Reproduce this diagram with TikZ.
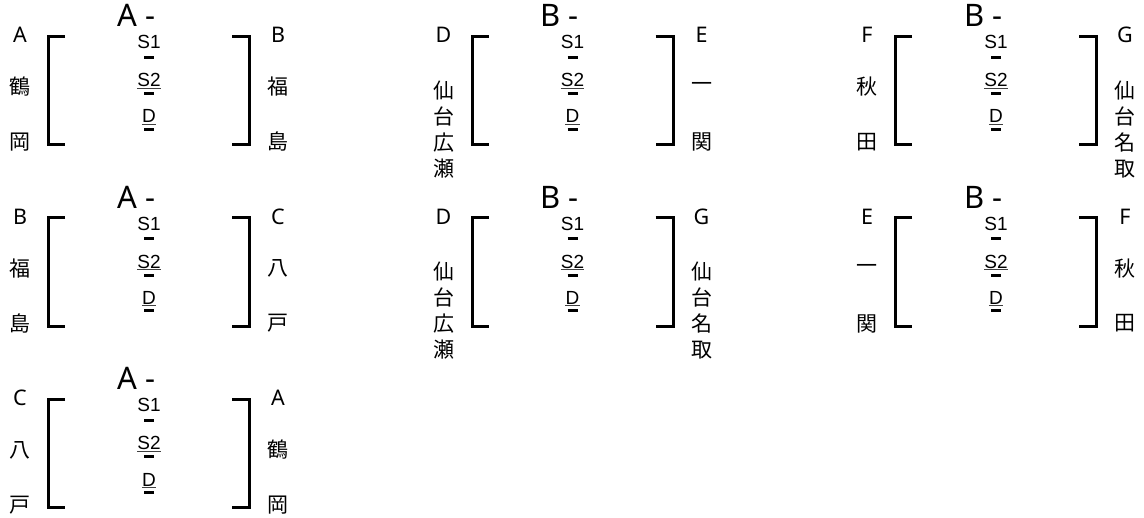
\documentclass[tikz,border=0pt]{standalone}
\usepackage{fontspec}
\setmainfont{Noto Sans}
\newfontfamily\jp{Noto Sans CJK JP}
\newfontfamily\arialf{Liberation Sans}
\tikzset{
  x=1pt, y=-1pt,
  br/.style={line width=3pt, line cap=butt, line join=miter},
  bar/.style={line width=3pt},
  uline/.style={line width=0.5pt, black!75},
  lbl/.style={inner sep=0pt, font=\fontsize{21.5}{24}\selectfont},
  jpc/.style={inner sep=0pt, font=\jp\fontsize{21}{26}\selectfont, align=center},
  big/.style={inner sep=0pt, font=\fontsize{31}{34}\selectfont},
  sm/.style={inner sep=0pt, font=\arialf\fontsize{19}{21}\selectfont},
}
% two-character side label
\newcommand\sidetwo[5]{%
  \node[lbl,anchor=base] (#1a) at (#2,43) {#3};
  \node[jpc] (#1b) at (#2,87) {#4};
  \node[jpc] (#1e) at (#2,142) {#5};}
% four-character side label (stacked)
\newcommand\sidefour[4]{%
  \node[lbl,anchor=base] (#1a) at (#2,43) {#3};
  \node[jpc] (#1b) at (#2,129.5) {#4};}
% block: id, dx, dy, centre letter, left code, right code
\newcommand\blk[6]{%
\begin{scope}[shift={(#2,#3)}]
  \draw[br] (65,36.5) -- (48.5,36.5) -- (48.5,145) -- (65,145);
  \draw[br] (232,36.5) -- (249.5,36.5) -- (249.5,145) -- (232,145);
  \node[big,anchor=base west] (#1c) at (117,27) {#4 -};
  \node[sm,anchor=base] (#1s1) at (149,49) {S1};
  \node[sm,anchor=base] (#1s2) at (149,87) {S2};
  \node[sm,anchor=base] (#1d) at (149,123) {D};
  \draw[bar] (144,57.5) -- (154,57.5);
  \draw[bar] (144,94) -- (154,94);
  \draw[bar] (144,129.5) -- (154,129.5);
  \draw[uline] ([yshift=-1.2pt]#1s2.base west) -- ([yshift=-1.2pt]#1s2.base east);
  \draw[uline] ([yshift=-1.2pt]#1d.base west) -- ([yshift=-1.2pt]#1d.base east);
  #5
  #6
\end{scope}}
\begin{document}
\begin{tikzpicture}
\useasboundingbox (0,0) rectangle (1144,518);
% row 1
\blk{ba}{0}{0}{A}{\sidetwo{bal}{20}{A}{鶴}{岡}}{\sidetwo{bar}{278}{B}{福}{島}}
\blk{bb}{423.5}{0}{B}{\sidefour{bbl}{20}{D}{仙\\台\\広\\瀬}}{\sidetwo{bbr}{278}{E}{一}{関}}
\blk{bc}{847}{0}{B}{\sidetwo{bcl}{20}{F}{秋}{田}}{\sidefour{bcr}{278}{G}{仙\\台\\名\\取}}
% row 2
\blk{bd}{0}{181.5}{A}{\sidetwo{bdl}{20}{B}{福}{島}}{\sidetwo{bdr}{278}{C}{八}{戸}}
\blk{be}{423.5}{181.5}{B}{\sidefour{bel}{20}{D}{仙\\台\\広\\瀬}}{\sidefour{ber}{278}{G}{仙\\台\\名\\取}}
\blk{bf}{847}{181.5}{B}{\sidetwo{bfl}{20}{E}{一}{関}}{\sidetwo{bfr}{278}{F}{秋}{田}}
% row 3
\blk{bg}{0}{363}{A}{\sidetwo{bgl}{20}{C}{八}{戸}}{\sidetwo{bgr}{278}{A}{鶴}{岡}}
\end{tikzpicture}
\end{document}
